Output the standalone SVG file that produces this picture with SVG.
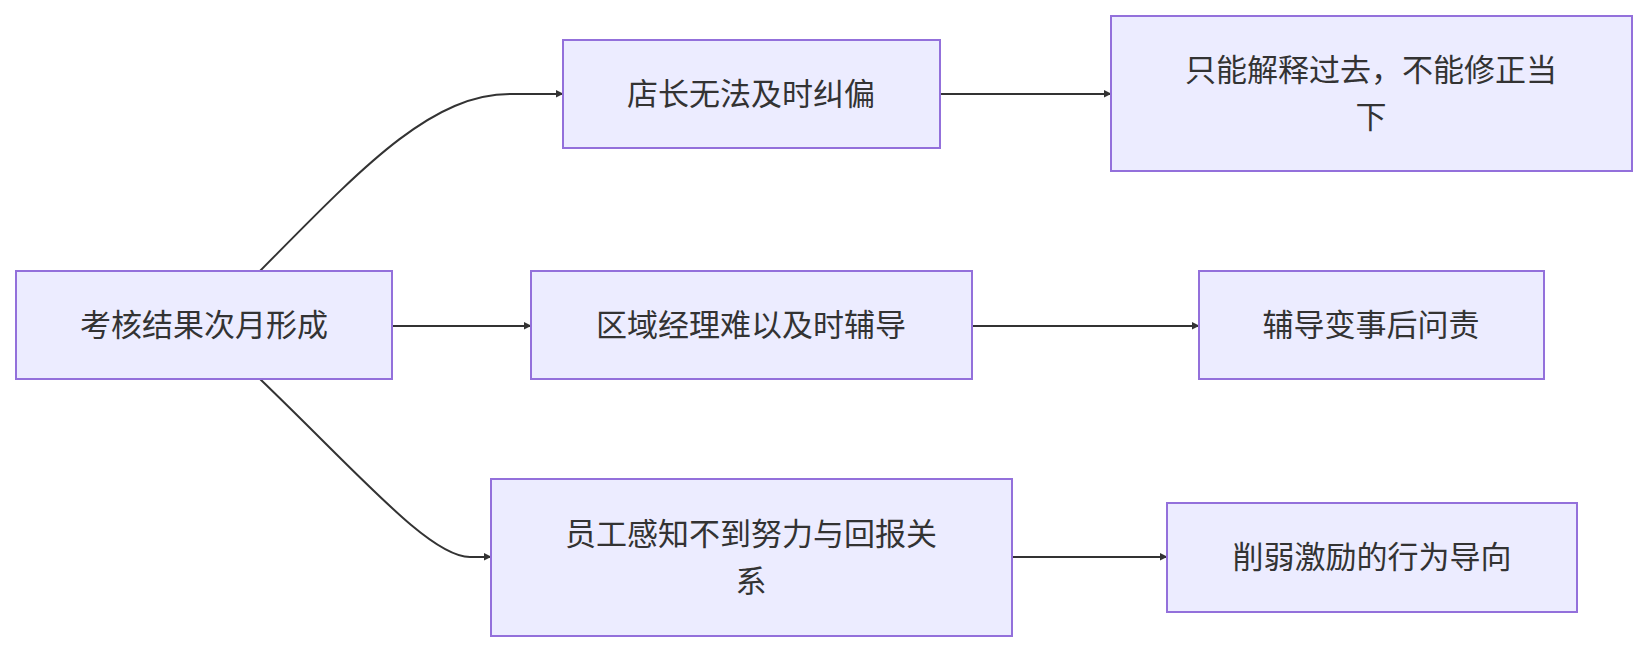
<svg xmlns="http://www.w3.org/2000/svg" width="1648" height="652" viewBox="0 0 1648 652">
<style>
.n{fill:#ECECFF;stroke:#9370DB;stroke-width:2}
.t{font-family:"Liberation Sans","Noto Sans CJK SC",sans-serif;font-size:31px;fill:#333;text-anchor:middle;dominant-baseline:central}
.e{fill:none;stroke:#333;stroke-width:2;marker-end:url(#a)}
</style>
<defs><marker id="a" viewBox="0 0 10 10" refX="9" refY="5" markerWidth="8" markerHeight="8" orient="auto" markerUnits="userSpaceOnUse"><path d="M0,0L10,5L0,10z" fill="#333" transform="scale(1.6) translate(-4 -2)"/></marker></defs>
<rect width="1648" height="652" fill="#fff"/>
<g id="edges">
<path class="e" d="M260,271 C360,170 430,94 510,94 L563,94"/>
<path class="e" d="M392,326 L531,326"/>
<path class="e" d="M260,379 C360,475 430,557 470,557 L491,557"/>
<path class="e" d="M940,94 L1111,94"/>
<path class="e" d="M972,326 L1199,326"/>
<path class="e" d="M1012,557 L1167,557"/>
</g>
<g id="A"><rect class="n" x="16" y="271" width="376" height="108"/><text class="t" x="204" y="325">考核结果次月形成</text></g>
<g id="B"><rect class="n" x="563" y="40" width="377" height="108"/><text class="t" x="751" y="94">店长无法及时纠偏</text></g>
<g id="C"><rect class="n" x="1111" y="16" width="521" height="155"/><text class="t" x="1371" y="70">只能解释过去，不能修正当</text><text class="t" x="1371" y="117">下</text></g>
<g id="D"><rect class="n" x="531" y="271" width="441" height="108"/><text class="t" x="751" y="325">区域经理难以及时辅导</text></g>
<g id="E"><rect class="n" x="1199" y="271" width="345" height="108"/><text class="t" x="1371" y="325">辅导变事后问责</text></g>
<g id="F"><rect class="n" x="491" y="479" width="521" height="157"/><text class="t" x="751" y="534">员工感知不到努力与回报关</text><text class="t" x="751" y="581">系</text></g>
<g id="G"><rect class="n" x="1167" y="503" width="410" height="109"/><text class="t" x="1372" y="557">削弱激励的行为导向</text></g>
</svg>
